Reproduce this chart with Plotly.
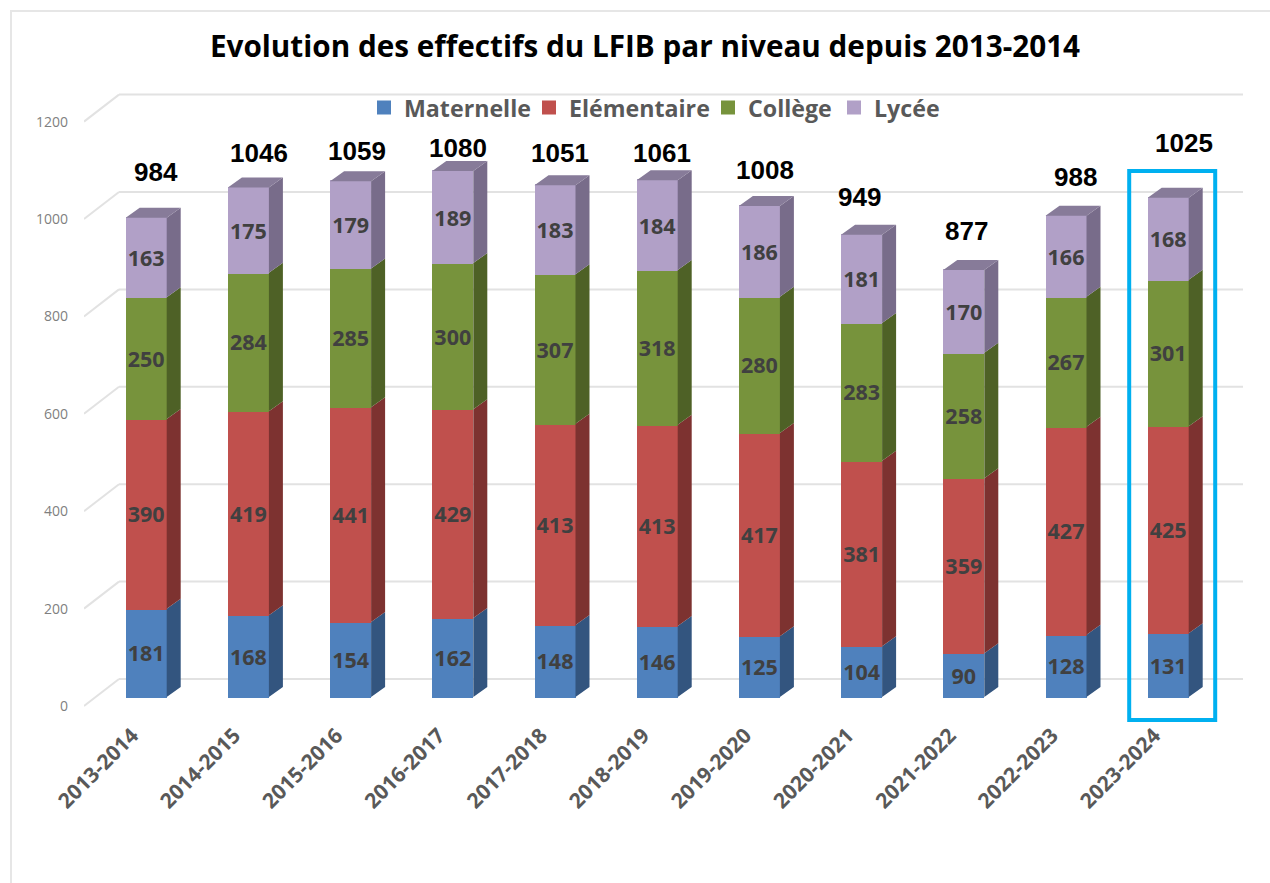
"""Evolution des effectifs du LFIB : colonnes empilées façon « 3D » (faces latérales dessinées en polygones)."""

import plotly.graph_objects as go

ANNEES = ["2013-2014", "2014-2015", "2015-2016", "2016-2017", "2017-2018", "2018-2019",
          "2019-2020", "2020-2021", "2021-2022", "2022-2023", "2023-2024"]
MATERNELLE = [181, 168, 154, 162, 148, 146, 125, 104, 90, 128, 131]
ELEMENTAIRE = [390, 419, 441, 429, 413, 413, 417, 381, 359, 427, 425]
COLLEGE = [250, 284, 285, 300, 307, 318, 280, 283, 258, 267, 301]
LYCEE = [163, 175, 179, 189, 183, 184, 186, 181, 170, 166, 168]
TOTAUX = [984, 1046, 1059, 1080, 1051, 1061, 1008, 949, 877, 988, 1025]
GRADUATIONS = [0, 200, 400, 600, 800, 1000, 1200]

# nom, valeurs, couleur de face, couleur de côté
SERIES = [
    ("Maternelle", MATERNELLE, "#4F81BD", "#33557F"),
    ("Elémentaire", ELEMENTAIRE, "#C0504D", "#7D3230"),
    ("Collège", COLLEGE, "#77933C", "#4E6126"),
    ("Lycée", LYCEE, "#B1A0C7", "#786C8A"),
]
COULEUR_DESSUS = "#877B99"

# échelle en pixels de la page
W, H = 1270, 883
PLOT_L, PLOT_R, PLOT_T, PLOT_B = 84, 1243, 90, 722
PX_PAR_UNITE = 0.487
PX_PAR_CATEGORIE = 102.2
X0_PX = 146.2  # centre de la première colonne
Y0_AXE_PX = 706  # 0 des graduations (plan avant)
Y0_BARRE_PX = 697  # 0 des colonnes

LARGEUR = 39 / PX_PAR_CATEGORIE  # + 2 px de contour
DEMI_FACE = 41 / 2 / PX_PAR_CATEGORIE
PROF_X = 14 / PX_PAR_CATEGORIE
PROF_Y = 10 / PX_PAR_UNITE
MUR_X = 35 / PX_PAR_CATEGORIE
MUR_Y = 27 / PX_PAR_UNITE

# petits décalages (px) des étiquettes de total, placées à la main sur l'original
DECALAGES_TOTAUX = [(10, 46), (11, 35), (6, 30), (5, 23), (5, 32), (5, 27),
                    (6, 36), (-2, 38), (3, 39), (9, 39), (16, 55)]
# la légende d'origine est plus serrée que celle de Plotly : une légende par série
LEGENDES = ["legend", "legend2", "legend3", "legend4"]
LEGENDES_X_PX = [364, 529, 708, 834]

positions = list(range(len(ANNEES)))
x_range = [(PLOT_L - X0_PX) / PX_PAR_CATEGORIE, (PLOT_R - X0_PX) / PX_PAR_CATEGORIE]
y_range = [(Y0_AXE_PX - PLOT_B) / PX_PAR_UNITE, (Y0_AXE_PX - PLOT_T) / PX_PAR_UNITE]
y2_range = [(Y0_BARRE_PX - PLOT_B) / PX_PAR_UNITE, (Y0_BARRE_PX - PLOT_T) / PX_PAR_UNITE]

fig = go.Figure()

# colonnes (face avant)
for (nom, valeurs, couleur, _), legende in zip(SERIES, LEGENDES):
    fig.add_trace(
        go.Bar(
            x=positions,
            y=valeurs,
            name=nom,
            legend=legende,
            width=LARGEUR,
            yaxis="y2",
            marker=dict(color=couleur, line=dict(width=2, color=couleur)),
            text=valeurs,
            textposition="inside",
            insidetextanchor="middle",
            textangle=0,
            constraintext="none",
            insidetextfont=dict(family="Open Sans", size=21.5, color="#404040", weight="bold"),
        )
    )

# faces latérales et dessus
cumul = [0] * len(ANNEES)
for nom, valeurs, _, cote in SERIES:
    xs, ys = [], []
    for i, v in enumerate(valeurs):
        droite = i + DEMI_FACE
        bas, haut = cumul[i], cumul[i] + v
        xs += [droite, droite + PROF_X, droite + PROF_X, droite, droite, None]
        ys += [bas, bas + PROF_Y, haut + PROF_Y, haut, bas, None]
        cumul[i] = haut
    fig.add_trace(
        go.Scatter(x=xs, y=ys, yaxis="y2", mode="lines", fill="toself", fillcolor=cote,
                   line=dict(width=0), showlegend=False, hoverinfo="skip")
    )

xs, ys = [], []
for i, total in enumerate(TOTAUX):
    g, d = i - DEMI_FACE, i + DEMI_FACE
    xs += [g, g + PROF_X, d + PROF_X, d, g, None]
    ys += [total, total + PROF_Y, total + PROF_Y, total, total, None]
fig.add_trace(
    go.Scatter(x=xs, y=ys, yaxis="y2", mode="lines", fill="toself", fillcolor=COULEUR_DESSUS,
               line=dict(width=0), showlegend=False, hoverinfo="skip")
)

# totaux au-dessus des colonnes
for i, (total, (dx, dy)) in enumerate(zip(TOTAUX, DECALAGES_TOTAUX)):
    fig.add_annotation(
        x=i, y=total, yref="y2", text=str(total), showarrow=False,
        xshift=dx, yshift=dy,
        font=dict(family="Liberation Sans", size=26, color="#000000", weight="bold"),
    )

# quadrillage : mur du fond + retour oblique vers l'axe
GRILLE = dict(color="#E2E2E2", width=2)
x_mur = x_range[0] + MUR_X
for g in GRADUATIONS:
    fig.add_shape(type="line", layer="below", xref="x", yref="y", line=GRILLE,
                  x0=x_range[0], y0=g, x1=x_mur, y1=g + MUR_Y)
    fig.add_shape(type="line", layer="below", xref="x", yref="y", line=GRILLE,
                  x0=x_mur, y0=g + MUR_Y, x1=x_range[1], y1=g + MUR_Y)

# cadre bleu autour de la dernière année
dernier = positions[-1]
fig.add_shape(type="rect", xref="x", yref="y2", line=dict(color="#00B0F0", width=4),
              x0=dernier - 39 / PX_PAR_CATEGORIE, x1=dernier + 47 / PX_PAR_CATEGORIE,
              y0=-23 / PX_PAR_UNITE, y1=(Y0_BARRE_PX - 171) / PX_PAR_UNITE)

# cadre gris de l'image
fig.add_shape(type="path", xref="paper", yref="paper", line=dict(color="#E6E6E6", width=2),
              path="M {} {} L {} {} L {} {}".format(
                  (11 - PLOT_L) / (PLOT_R - PLOT_L), (PLOT_B - H) / (PLOT_B - PLOT_T),
                  (11 - PLOT_L) / (PLOT_R - PLOT_L), (PLOT_B - 11) / (PLOT_B - PLOT_T),
                  (W - PLOT_L) / (PLOT_R - PLOT_L), (PLOT_B - 11) / (PLOT_B - PLOT_T)))

legendes = {
    legende: dict(
        xref="paper", yref="paper",
        x=(x_px - PLOT_L) / (PLOT_R - PLOT_L), y=(PLOT_B - 108) / (PLOT_B - PLOT_T),
        xanchor="left", yanchor="middle",
        bgcolor="rgba(0,0,0,0)", itemclick=False, itemdoubleclick=False,
        font=dict(family="Open Sans", size=23.2, color="#595959", weight="bold"),
    )
    for legende, x_px in zip(LEGENDES, LEGENDES_X_PX)
}

fig.update_layout(
    width=W,
    height=H,
    autosize=False,
    barmode="stack",
    plot_bgcolor="#FFFFFF",
    paper_bgcolor="#FFFFFF",
    margin=dict(l=PLOT_L, r=W - PLOT_R, t=PLOT_T, b=H - PLOT_B, pad=0, autoexpand=False),
    title=dict(
        text="Evolution des effectifs du LFIB par niveau depuis 2013-2014",
        xref="paper", yref="container", x=(645 - PLOT_L) / (PLOT_R - PLOT_L), y=1 - 47 / H,
        xanchor="center", yanchor="middle",
        font=dict(family="Open Sans", size=29.7, color="#000000", weight="bold"),
    ),
    xaxis=dict(
        range=x_range, tickmode="array", tickvals=positions, ticktext=ANNEES, tickangle=-45,
        showgrid=False, zeroline=False, showline=False, ticks="",
        ticklabelshift=-14, ticklabelstandoff=-4,
        tickfont=dict(family="Open Sans", size=21, color="#595959", weight="bold"),
    ),
    yaxis=dict(
        range=y_range, tickmode="array", tickvals=GRADUATIONS, showgrid=False, zeroline=False,
        showline=False, ticks="", ticklabelstandoff=15,
        tickfont=dict(family="Open Sans", size=14, color="#7F7F7F"),
    ),
    yaxis2=dict(range=y2_range, overlaying="y", side="left", visible=False),
    **legendes,
)

# la page ne doit pas ajouter la marge par défaut du navigateur
fig.write_html(
    "out.html",
    config={"displayModeBar": False},
    post_script="document.body.style.margin = '0';",
)
